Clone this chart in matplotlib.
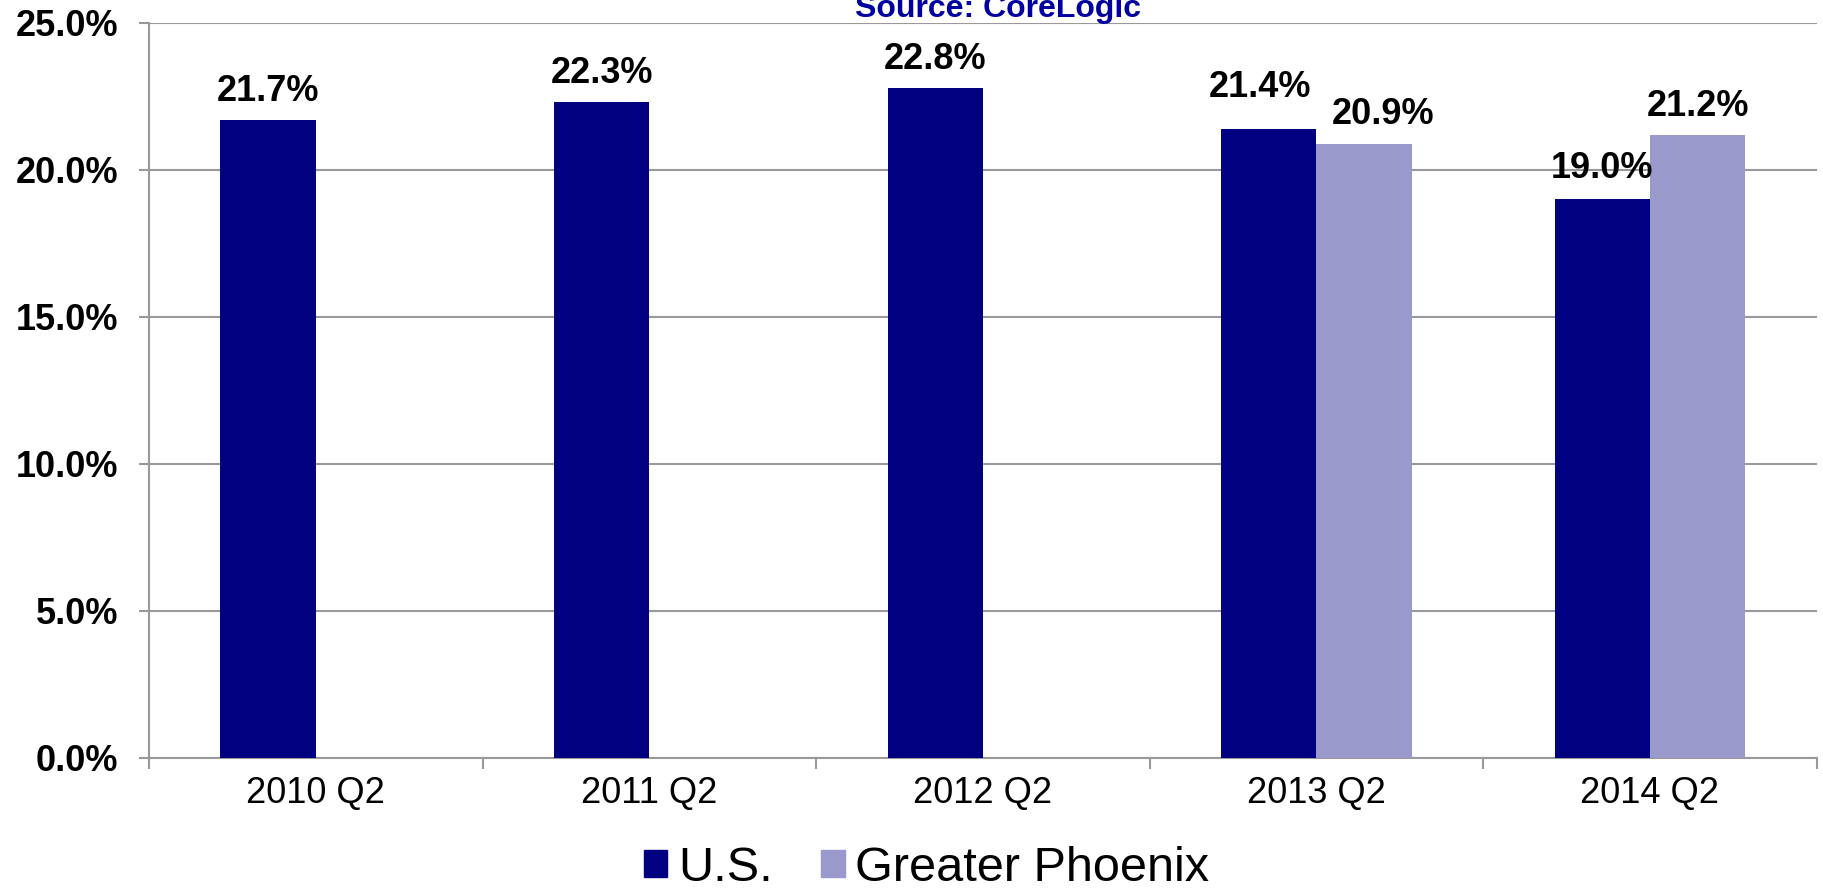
import numpy as np
import matplotlib
matplotlib.use("Agg")
import matplotlib.pyplot as plt
from matplotlib.patches import Patch
from matplotlib.ticker import FuncFormatter, MultipleLocator

# данные
quarters = ["2010 Q2", "2011 Q2", "2012 Q2", "2013 Q2", "2014 Q2"]
us_vals = [21.7, 22.3, 22.8, 21.4, 19.0]
phx_vals = [None, None, None, 20.9, 21.2]
series_names = ["U.S.", "Greater Phoenix"]

us_color = "#000080"
phx_color = "#9999CC"
grid_color = "#999999"

plt.rcParams['font.family'] = ['Liberation Sans', 'DejaVu Sans']

fig = plt.figure(figsize=(18.24, 8.88), dpi=100)
ax = fig.add_axes([0.0817, 0.1464, 0.9143, 0.8277])

x = np.arange(len(quarters))
w = 0.2857

ax.bar(x - w / 2, us_vals, w, color=us_color, zorder=3)
phx_x = [xi + w / 2 for xi, v in zip(x, phx_vals) if v is not None]
phx_y = [v for v in phx_vals if v is not None]
ax.bar(phx_x, phx_y, w, color=phx_color, zorder=3)

# подписи над столбиками (две подписи сдвинуты, чтобы не налезали)
us_shift = [(0, 0), (0, 0), (0, 0), (-6, 9), (0, 2)]
phx_shift = [(14, 0), (0, 0)]
for xi, v, (dx, dy) in zip(x - w / 2, us_vals, us_shift):
    ax.annotate(f"{v:.1f}%", (xi, v), xytext=(dx, 8 + dy), textcoords="offset points",
                ha="center", va="bottom", fontsize=26, fontweight="bold", zorder=4)
for xi, v, (dx, dy) in zip(phx_x, phx_y, phx_shift):
    ax.annotate(f"{v:.1f}%", (xi, v), xytext=(dx, 8 + dy), textcoords="offset points",
                ha="center", va="bottom", fontsize=26, fontweight="bold", zorder=4)

ax.set_xlim(-0.5, len(quarters) - 0.5)
ax.set_ylim(0, 25)
ax.yaxis.set_major_locator(MultipleLocator(5))
ax.yaxis.set_major_formatter(FuncFormatter(lambda v, p: f"{v:.1f}%"))
ax.grid(axis="y", color=grid_color, linewidth=1.5, zorder=0)

ax.set_xticks(x)
ax.set_xticklabels(quarters, fontsize=26)
ax.set_xticks(np.arange(-0.5, len(quarters)), minor=True)
ax.tick_params(axis="x", which="major", length=0, pad=13)
ax.tick_params(axis="x", which="minor", length=8, width=1.5, color=grid_color, direction="out")
ax.tick_params(axis="y", length=7, width=1.5, color=grid_color, pad=15)
for lab in ax.get_yticklabels():
    lab.set_fontsize(26)
    lab.set_fontweight("bold")

for s in ["top", "right"]:
    ax.spines[s].set_visible(False)
for s in ["left", "bottom"]:
    ax.spines[s].set_color(grid_color)
    ax.spines[s].set_linewidth(1.5)

fig.text(0.547, 0.9814, "Source: CoreLogic", ha="center", va="baseline",
         fontsize=23, fontweight="bold", color="#0000A0")

handles = [Patch(color=us_color), Patch(color=phx_color)]
fig.legend(handles, series_names, loc="center", bbox_to_anchor=(0.508, 0.022),
           ncol=2, frameon=False, fontsize=35, handlelength=0.48, handleheight=0.48,
           handletextpad=0.22, columnspacing=1.0, borderpad=0)

fig.savefig("out.png", dpi=100)
